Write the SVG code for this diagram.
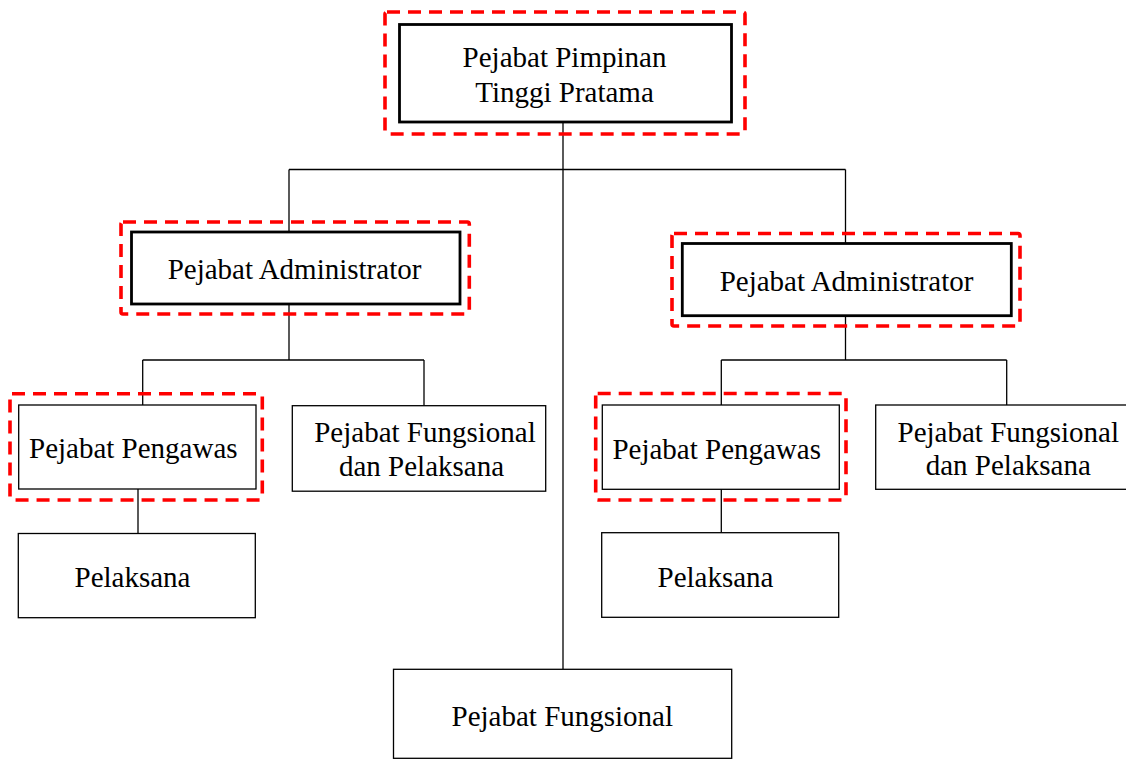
<svg xmlns="http://www.w3.org/2000/svg" width="1126" height="760" viewBox="0 0 1126 760">
<style>
.bg{fill:#ffffff}
.thick{fill:#ffffff;stroke:#000000;stroke-width:2.8}
.thin{fill:#ffffff;stroke:#000000;stroke-width:1.3}
.hl{fill:none;stroke:#ff0000;stroke-width:3.6;stroke-dasharray:13 8}
.ln{fill:none;stroke:#000000;stroke-width:1.3}
text{font-family:"Liberation Serif","Times New Roman",serif;font-size:29px;fill:#000000;text-anchor:middle}
</style>
<rect class="bg" x="0" y="0" width="1126" height="760"/>
<g id="connectors">
<path class="ln" d="M563,122 V669"/>
<path class="ln" d="M289,169.5 H845.5"/>
<path class="ln" d="M289,169.5 V232"/>
<path class="ln" d="M845.5,169.5 V244"/>
<path class="ln" d="M289,304 V360"/>
<path class="ln" d="M142.7,360 H424"/>
<path class="ln" d="M142.7,360 V405"/>
<path class="ln" d="M424,360 V405.7"/>
<path class="ln" d="M138,489 V533.5"/>
<path class="ln" d="M845.5,315.7 V360"/>
<path class="ln" d="M721.3,360 H1006.7"/>
<path class="ln" d="M721.3,360 V405"/>
<path class="ln" d="M1006.7,360 V405"/>
<path class="ln" d="M721.3,489 V532.7"/>
</g>
<g id="node-pimpinan">
<rect class="thick" x="399.5" y="24.5" width="332" height="97.5"/>
<rect class="hl" x="385" y="12" width="360" height="122" rx="2"/>
<text x="564.5" y="67">Pejabat Pimpinan</text>
<text x="564.5" y="101.5">Tinggi Pratama</text>
</g>
<g id="node-admin-left">
<rect class="thick" x="131.5" y="232" width="328.5" height="72"/>
<rect class="hl" x="121" y="222" width="348.3" height="92" rx="2"/>
<text x="294.5" y="278.5">Pejabat Administrator</text>
</g>
<g id="node-admin-right">
<rect class="thick" x="682.3" y="243.5" width="329" height="72.2"/>
<rect class="hl" x="672" y="233.5" width="348" height="92.5" rx="2"/>
<text x="846.5" y="290.5">Pejabat Administrator</text>
</g>
<g id="node-pengawas-left">
<rect class="thin" x="18.7" y="405" width="237.3" height="84"/>
<rect class="hl" x="10" y="393.7" width="252.3" height="106.3" rx="2"/>
<text x="133.3" y="458.3">Pejabat Pengawas</text>
</g>
<g id="node-fp-left">
<rect class="thin" x="292.3" y="405.7" width="253.4" height="85.5"/>
<text x="425" y="441.7">Pejabat Fungsional</text>
<text x="421.5" y="476">dan Pelaksana</text>
</g>
<g id="node-pelaksana-left">
<rect class="thin" x="18.3" y="533.5" width="237" height="84.2"/>
<text x="132.5" y="587.3">Pelaksana</text>
</g>
<g id="node-pengawas-right">
<rect class="thin" x="602.3" y="405" width="237" height="84.3"/>
<rect class="hl" x="595.7" y="393.5" width="250.3" height="106.5" rx="2"/>
<text x="716.7" y="459">Pejabat Pengawas</text>
</g>
<g id="node-fp-right">
<rect class="thin" x="875.7" y="405" width="264" height="84.3"/>
<text x="1008.3" y="441.7">Pejabat Fungsional</text>
<text x="1008.3" y="475">dan Pelaksana</text>
</g>
<g id="node-pelaksana-right">
<rect class="thin" x="601.7" y="532.7" width="237" height="84.6"/>
<text x="715.5" y="586.7">Pelaksana</text>
</g>
<g id="node-fungsional">
<rect class="thin" x="393.5" y="669.3" width="338.2" height="89"/>
<text x="562.3" y="726">Pejabat Fungsional</text>
</g>
</svg>
